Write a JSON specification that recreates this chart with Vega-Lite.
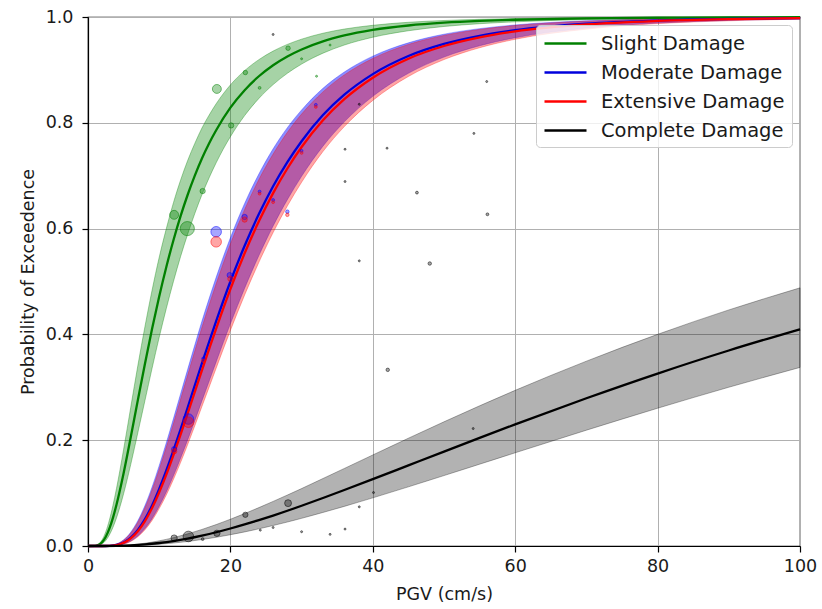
{
  "$schema": "https://vega.github.io/schema/vega-lite/v6.json",
  "width": 712,
  "height": 529,
  "autosize": {"type": "none"},
  "padding": {"left": 88, "top": 17, "right": 22, "bottom": 63},
  "background": "white",
  "config": {
    "font": "DejaVu Sans",
    "view": {"stroke": "black", "strokeWidth": 1.2},
    "axis": {
      "grid": true, "gridColor": "#b0b0b0", "gridWidth": 1,
      "domainColor": "black", "domainWidth": 1.2,
      "tickColor": "black", "tickSize": 6, "tickWidth": 1.2,
      "labelFontSize": 17.5, "labelColor": "#1a1a1a", "labelFlush": false,
      "titleFontSize": 17.5, "titleFontWeight": "normal", "titleColor": "#1a1a1a"
    }
  },
  "datasets": {
    "curves": [
      {"s":"Slight Damage","x":0,"p":0,"lo":0,"hi":0},
      {"s":"Slight Damage","x":1,"p":0.0003,"lo":0.0001,"hi":0.0005},
      {"s":"Slight Damage","x":1.5,"p":0.0021,"lo":0.0011,"hi":0.0037},
      {"s":"Slight Damage","x":2,"p":0.0074,"lo":0.0042,"hi":0.0121},
      {"s":"Slight Damage","x":2.5,"p":0.0175,"lo":0.0105,"hi":0.0271},
      {"s":"Slight Damage","x":3,"p":0.0328,"lo":0.0208,"hi":0.0489},
      {"s":"Slight Damage","x":3.5,"p":0.0532,"lo":0.035,"hi":0.0765},
      {"s":"Slight Damage","x":4,"p":0.078,"lo":0.053,"hi":0.1086},
      {"s":"Slight Damage","x":5,"p":0.1376,"lo":0.0988,"hi":0.1825},
      {"s":"Slight Damage","x":6,"p":0.2055,"lo":0.154,"hi":0.262},
      {"s":"Slight Damage","x":7,"p":0.2757,"lo":0.214,"hi":0.341},
      {"s":"Slight Damage","x":8,"p":0.3446,"lo":0.275,"hi":0.415},
      {"s":"Slight Damage","x":9,"p":0.4105,"lo":0.336,"hi":0.4836},
      {"s":"Slight Damage","x":10,"p":0.4717,"lo":0.3944,"hi":0.5457},
      {"s":"Slight Damage","x":11,"p":0.5275,"lo":0.449,"hi":0.6},
      {"s":"Slight Damage","x":12,"p":0.578,"lo":0.5,"hi":0.649},
      {"s":"Slight Damage","x":13,"p":0.6236,"lo":0.547,"hi":0.6915},
      {"s":"Slight Damage","x":14,"p":0.664,"lo":0.5895,"hi":0.7288},
      {"s":"Slight Damage","x":15,"p":0.7002,"lo":0.6285,"hi":0.761},
      {"s":"Slight Damage","x":16,"p":0.7326,"lo":0.664,"hi":0.79},
      {"s":"Slight Damage","x":17,"p":0.761,"lo":0.6957,"hi":0.8143},
      {"s":"Slight Damage","x":18,"p":0.786,"lo":0.7244,"hi":0.836},
      {"s":"Slight Damage","x":20,"p":0.8286,"lo":0.7737,"hi":0.8716},
      {"s":"Slight Damage","x":22,"p":0.8617,"lo":0.8136,"hi":0.8986},
      {"s":"Slight Damage","x":24,"p":0.888,"lo":0.846,"hi":0.9194},
      {"s":"Slight Damage","x":26,"p":0.9089,"lo":0.8722,"hi":0.9356},
      {"s":"Slight Damage","x":28,"p":0.9255,"lo":0.8936,"hi":0.9482},
      {"s":"Slight Damage","x":30,"p":0.9387,"lo":0.911,"hi":0.9581},
      {"s":"Slight Damage","x":33,"p":0.954,"lo":0.9316,"hi":0.9693},
      {"s":"Slight Damage","x":36,"p":0.9651,"lo":0.947,"hi":0.9772},
      {"s":"Slight Damage","x":40,"p":0.9755,"lo":0.9617,"hi":0.9843},
      {"s":"Slight Damage","x":45,"p":0.9839,"lo":0.974,"hi":0.99},
      {"s":"Slight Damage","x":50,"p":0.9892,"lo":0.9821,"hi":0.9934},
      {"s":"Slight Damage","x":55,"p":0.9926,"lo":0.9873,"hi":0.9956},
      {"s":"Slight Damage","x":60,"p":0.9948,"lo":0.9909,"hi":0.997},
      {"s":"Slight Damage","x":70,"p":0.9974,"lo":0.9952,"hi":0.9985},
      {"s":"Slight Damage","x":80,"p":0.9986,"lo":0.9974,"hi":0.9992},
      {"s":"Slight Damage","x":90,"p":0.9992,"lo":0.9985,"hi":0.9996},
      {"s":"Slight Damage","x":100,"p":0.9995,"lo":0.9991,"hi":0.9997},

      {"s":"Moderate Damage","x":0,"p":0,"lo":0,"hi":0},
      {"s":"Moderate Damage","x":2,"p":0,"lo":0,"hi":0.0001},
      {"s":"Moderate Damage","x":3,"p":0.0004,"lo":0.0002,"hi":0.0007},
      {"s":"Moderate Damage","x":4,"p":0.002,"lo":0.001,"hi":0.0038},
      {"s":"Moderate Damage","x":5,"p":0.0066,"lo":0.0037,"hi":0.0117},
      {"s":"Moderate Damage","x":6,"p":0.0158,"lo":0.0093,"hi":0.0261},
      {"s":"Moderate Damage","x":7,"p":0.0304,"lo":0.0189,"hi":0.0479},
      {"s":"Moderate Damage","x":8,"p":0.0507,"lo":0.033,"hi":0.0765},
      {"s":"Moderate Damage","x":9,"p":0.0768,"lo":0.0517,"hi":0.1116},
      {"s":"Moderate Damage","x":10,"p":0.108,"lo":0.075,"hi":0.1518},
      {"s":"Moderate Damage","x":11,"p":0.1428,"lo":0.102,"hi":0.1952},
      {"s":"Moderate Damage","x":12,"p":0.1807,"lo":0.1326,"hi":0.2408},
      {"s":"Moderate Damage","x":13,"p":0.2207,"lo":0.1657,"hi":0.2874},
      {"s":"Moderate Damage","x":14,"p":0.2618,"lo":0.2006,"hi":0.334},
      {"s":"Moderate Damage","x":15,"p":0.3036,"lo":0.237,"hi":0.38},
      {"s":"Moderate Damage","x":16,"p":0.3453,"lo":0.2743,"hi":0.425},
      {"s":"Moderate Damage","x":17,"p":0.3855,"lo":0.311,"hi":0.4673},
      {"s":"Moderate Damage","x":18,"p":0.425,"lo":0.348,"hi":0.508},
      {"s":"Moderate Damage","x":20,"p":0.5,"lo":0.42,"hi":0.5828},
      {"s":"Moderate Damage","x":22,"p":0.5675,"lo":0.4872,"hi":0.6476},
      {"s":"Moderate Damage","x":24,"p":0.6274,"lo":0.549,"hi":0.7033},
      {"s":"Moderate Damage","x":26,"p":0.68,"lo":0.605,"hi":0.7508},
      {"s":"Moderate Damage","x":28,"p":0.7257,"lo":0.6547,"hi":0.7908},
      {"s":"Moderate Damage","x":30,"p":0.7652,"lo":0.6989,"hi":0.8243},
      {"s":"Moderate Damage","x":33,"p":0.8146,"lo":0.7558,"hi":0.8652},
      {"s":"Moderate Damage","x":36,"p":0.8531,"lo":0.8018,"hi":0.896},
      {"s":"Moderate Damage","x":40,"p":0.892,"lo":0.85,"hi":0.926},
      {"s":"Moderate Damage","x":45,"p":0.9262,"lo":0.8936,"hi":0.9512},
      {"s":"Moderate Damage","x":50,"p":0.9491,"lo":0.9242,"hi":0.9675},
      {"s":"Moderate Damage","x":55,"p":0.9645,"lo":0.9456,"hi":0.978},
      {"s":"Moderate Damage","x":60,"p":0.975,"lo":0.9607,"hi":0.985},
      {"s":"Moderate Damage","x":70,"p":0.9873,"lo":0.979,"hi":0.9928},
      {"s":"Moderate Damage","x":80,"p":0.9933,"lo":0.9885,"hi":0.9964},
      {"s":"Moderate Damage","x":90,"p":0.9964,"lo":0.9935,"hi":0.9981},
      {"s":"Moderate Damage","x":100,"p":0.998,"lo":0.9962,"hi":0.999},

      {"s":"Extensive Damage","x":0,"p":0,"lo":0,"hi":0},
      {"s":"Extensive Damage","x":2,"p":0,"lo":0,"hi":0.0001},
      {"s":"Extensive Damage","x":3,"p":0.0003,"lo":0.0001,"hi":0.0007},
      {"s":"Extensive Damage","x":4,"p":0.0018,"lo":0.0009,"hi":0.0035},
      {"s":"Extensive Damage","x":5,"p":0.006,"lo":0.0034,"hi":0.0108},
      {"s":"Extensive Damage","x":6,"p":0.0144,"lo":0.0086,"hi":0.0244},
      {"s":"Extensive Damage","x":7,"p":0.028,"lo":0.0175,"hi":0.0449},
      {"s":"Extensive Damage","x":8,"p":0.0472,"lo":0.0307,"hi":0.0723},
      {"s":"Extensive Damage","x":9,"p":0.0718,"lo":0.0484,"hi":0.106},
      {"s":"Extensive Damage","x":10,"p":0.1015,"lo":0.0707,"hi":0.1448},
      {"s":"Extensive Damage","x":11,"p":0.1348,"lo":0.0965,"hi":0.187},
      {"s":"Extensive Damage","x":12,"p":0.1716,"lo":0.1259,"hi":0.2315},
      {"s":"Extensive Damage","x":13,"p":0.2104,"lo":0.1577,"hi":0.2773},
      {"s":"Extensive Damage","x":14,"p":0.2505,"lo":0.1918,"hi":0.3231},
      {"s":"Extensive Damage","x":15,"p":0.2912,"lo":0.2272,"hi":0.3685},
      {"s":"Extensive Damage","x":16,"p":0.3321,"lo":0.2637,"hi":0.413},
      {"s":"Extensive Damage","x":17,"p":0.3718,"lo":0.2998,"hi":0.455},
      {"s":"Extensive Damage","x":18,"p":0.411,"lo":0.3361,"hi":0.4956},
      {"s":"Extensive Damage","x":20,"p":0.4856,"lo":0.4075,"hi":0.571},
      {"s":"Extensive Damage","x":22,"p":0.5533,"lo":0.4745,"hi":0.6361},
      {"s":"Extensive Damage","x":24,"p":0.6137,"lo":0.5363,"hi":0.6928},
      {"s":"Extensive Damage","x":26,"p":0.6671,"lo":0.5925,"hi":0.7409},
      {"s":"Extensive Damage","x":28,"p":0.7136,"lo":0.6428,"hi":0.782},
      {"s":"Extensive Damage","x":30,"p":0.7542,"lo":0.6876,"hi":0.8165},
      {"s":"Extensive Damage","x":33,"p":0.8048,"lo":0.7457,"hi":0.8584},
      {"s":"Extensive Damage","x":36,"p":0.8447,"lo":0.7928,"hi":0.8905},
      {"s":"Extensive Damage","x":40,"p":0.8853,"lo":0.8423,"hi":0.9216},
      {"s":"Extensive Damage","x":45,"p":0.9212,"lo":0.8876,"hi":0.9481},
      {"s":"Extensive Damage","x":50,"p":0.9452,"lo":0.9195,"hi":0.9652},
      {"s":"Extensive Damage","x":55,"p":0.9616,"lo":0.9419,"hi":0.9764},
      {"s":"Extensive Damage","x":60,"p":0.9729,"lo":0.9579,"hi":0.9838},
      {"s":"Extensive Damage","x":70,"p":0.9861,"lo":0.977,"hi":0.9921},
      {"s":"Extensive Damage","x":80,"p":0.9926,"lo":0.9876,"hi":0.996},
      {"s":"Extensive Damage","x":90,"p":0.996,"lo":0.9929,"hi":0.9979},
      {"s":"Extensive Damage","x":100,"p":0.9977,"lo":0.9959,"hi":0.9989},

      {"s":"Complete Damage","x":0,"p":0,"lo":0,"hi":0},
      {"s":"Complete Damage","x":2,"p":0,"lo":0,"hi":0.0001},
      {"s":"Complete Damage","x":4,"p":0.0003,"lo":0.0001,"hi":0.0006},
      {"s":"Complete Damage","x":6,"p":0.0012,"lo":0.0006,"hi":0.0022},
      {"s":"Complete Damage","x":8,"p":0.0029,"lo":0.0016,"hi":0.0053},
      {"s":"Complete Damage","x":10,"p":0.0057,"lo":0.0033,"hi":0.0098},
      {"s":"Complete Damage","x":12,"p":0.0094,"lo":0.0056,"hi":0.0158},
      {"s":"Complete Damage","x":14,"p":0.0141,"lo":0.0085,"hi":0.023},
      {"s":"Complete Damage","x":16,"p":0.0197,"lo":0.0122,"hi":0.0313},
      {"s":"Complete Damage","x":18,"p":0.026,"lo":0.0164,"hi":0.0405},
      {"s":"Complete Damage","x":20,"p":0.0331,"lo":0.0213,"hi":0.0506},
      {"s":"Complete Damage","x":22,"p":0.0408,"lo":0.0266,"hi":0.0613},
      {"s":"Complete Damage","x":24,"p":0.049,"lo":0.0324,"hi":0.0726},
      {"s":"Complete Damage","x":26,"p":0.0576,"lo":0.0387,"hi":0.0843},
      {"s":"Complete Damage","x":28,"p":0.0667,"lo":0.0453,"hi":0.0963},
      {"s":"Complete Damage","x":30,"p":0.0761,"lo":0.0523,"hi":0.1086},
      {"s":"Complete Damage","x":33,"p":0.0908,"lo":0.0634,"hi":0.1276},
      {"s":"Complete Damage","x":36,"p":0.1058,"lo":0.0749,"hi":0.1466},
      {"s":"Complete Damage","x":40,"p":0.1263,"lo":0.091,"hi":0.1721},
      {"s":"Complete Damage","x":45,"p":0.1524,"lo":0.1118,"hi":0.2038},
      {"s":"Complete Damage","x":50,"p":0.1785,"lo":0.1331,"hi":0.2348},
      {"s":"Complete Damage","x":55,"p":0.2044,"lo":0.1546,"hi":0.265},
      {"s":"Complete Damage","x":60,"p":0.2299,"lo":0.1762,"hi":0.2943},
      {"s":"Complete Damage","x":70,"p":0.2793,"lo":0.2189,"hi":0.3494},
      {"s":"Complete Damage","x":80,"p":0.326,"lo":0.2604,"hi":0.4001},
      {"s":"Complete Damage","x":90,"p":0.3696,"lo":0.3001,"hi":0.4463},
      {"s":"Complete Damage","x":100,"p":0.4098,"lo":0.3376,"hi":0.488}
    ],
    "obs": [
      {"s":"Slight Damage","x":12.1,"p":0.626,"n":20},
      {"s":"Slight Damage","x":13.95,"p":0.6,"n":50},
      {"s":"Slight Damage","x":18.1,"p":0.864,"n":20},
      {"s":"Slight Damage","x":16.1,"p":0.671,"n":7},
      {"s":"Slight Damage","x":20.1,"p":0.795,"n":7},
      {"s":"Slight Damage","x":22.1,"p":0.895,"n":5},
      {"s":"Slight Damage","x":24.1,"p":0.866,"n":2},
      {"s":"Slight Damage","x":28.1,"p":0.941,"n":5},
      {"s":"Slight Damage","x":30,"p":0.921,"n":1},
      {"s":"Slight Damage","x":34,"p":0.947,"n":1},
      {"s":"Slight Damage","x":32.1,"p":0.888,"n":1},
      {"s":"Moderate Damage","x":18,"p":0.594,"n":28},
      {"s":"Moderate Damage","x":22,"p":0.622,"n":7},
      {"s":"Moderate Damage","x":24.1,"p":0.67,"n":2},
      {"s":"Moderate Damage","x":26,"p":0.654,"n":2},
      {"s":"Moderate Damage","x":28,"p":0.632,"n":3},
      {"s":"Moderate Damage","x":30,"p":0.747,"n":2},
      {"s":"Moderate Damage","x":32,"p":0.834,"n":2},
      {"s":"Moderate Damage","x":14.1,"p":0.24,"n":28},
      {"s":"Moderate Damage","x":12.1,"p":0.183,"n":7},
      {"s":"Moderate Damage","x":16.2,"p":0.354,"n":3},
      {"s":"Moderate Damage","x":19.9,"p":0.512,"n":7},
      {"s":"Extensive Damage","x":18,"p":0.575,"n":28},
      {"s":"Extensive Damage","x":22,"p":0.617,"n":7},
      {"s":"Extensive Damage","x":24.1,"p":0.666,"n":2},
      {"s":"Extensive Damage","x":26,"p":0.65,"n":2},
      {"s":"Extensive Damage","x":28,"p":0.626,"n":3},
      {"s":"Extensive Damage","x":30,"p":0.743,"n":2},
      {"s":"Extensive Damage","x":32,"p":0.83,"n":2},
      {"s":"Extensive Damage","x":14.1,"p":0.234,"n":28},
      {"s":"Extensive Damage","x":12.1,"p":0.179,"n":7},
      {"s":"Extensive Damage","x":16.2,"p":0.35,"n":3},
      {"s":"Extensive Damage","x":20,"p":0.505,"n":7},
      {"s":"Complete Damage","x":28.1,"p":0.081,"n":12},
      {"s":"Complete Damage","x":22.1,"p":0.059,"n":7},
      {"s":"Complete Damage","x":14.1,"p":0.018,"n":28},
      {"s":"Complete Damage","x":12.1,"p":0.015,"n":10},
      {"s":"Complete Damage","x":18.1,"p":0.024,"n":10},
      {"s":"Complete Damage","x":16.1,"p":0.013,"n":2},
      {"s":"Complete Damage","x":24.2,"p":0.03,"n":1},
      {"s":"Complete Damage","x":26,"p":0.035,"n":1},
      {"s":"Complete Damage","x":30,"p":0.027,"n":1},
      {"s":"Complete Damage","x":34,"p":0.022,"n":1},
      {"s":"Complete Damage","x":36.1,"p":0.032,"n":1},
      {"s":"Complete Damage","x":38.1,"p":0.074,"n":1},
      {"s":"Complete Damage","x":40.1,"p":0.101,"n":1},
      {"s":"Complete Damage","x":42.1,"p":0.333,"n":3},
      {"s":"Complete Damage","x":54.1,"p":0.222,"n":1},
      {"s":"Complete Damage","x":48,"p":0.534,"n":3},
      {"s":"Complete Damage","x":46.2,"p":0.668,"n":2},
      {"s":"Complete Damage","x":56.1,"p":0.627,"n":2},
      {"s":"Complete Damage","x":42,"p":0.752,"n":1},
      {"s":"Complete Damage","x":54.2,"p":0.78,"n":1},
      {"s":"Complete Damage","x":56,"p":0.878,"n":1},
      {"s":"Complete Damage","x":36.1,"p":0.75,"n":1},
      {"s":"Complete Damage","x":36.1,"p":0.689,"n":1},
      {"s":"Complete Damage","x":38.1,"p":0.539,"n":1},
      {"s":"Complete Damage","x":38.1,"p":0.835,"n":1},
      {"s":"Complete Damage","x":26,"p":0.967,"n":1}
    ]
  },
  "data": {"name": "curves"},
  "encoding": {
    "x": {"field": "x", "type": "quantitative", "title": "PGV (cm/s)",
          "scale": {"domain": [0, 100], "nice": false},
          "axis": {"values": [0, 20, 40, 60, 80, 100], "labelPadding": 5, "titlePadding": 11}},
    "y": {"field": "p", "type": "quantitative", "title": "Probability of Exceedence",
          "scale": {"domain": [0, 1], "nice": false},
          "axis": {"values": [0, 0.2, 0.4, 0.6, 0.8, 1], "format": ".1f", "labelPadding": 9, "titlePadding": 8}}
  },
  "layer": [
    {"transform": [{"filter": "datum.s === 'Slight Damage'"}],
     "mark": {"type": "area", "interpolate": "monotone", "fill": "#008000", "fillOpacity": 0.35, "stroke": "#008000", "strokeOpacity": 0.35, "strokeWidth": 1},
     "encoding": {"y": {"field": "lo", "type": "quantitative", "title": "Probability of Exceedence"}, "y2": {"field": "hi"}}},
    {"transform": [{"filter": "datum.s === 'Moderate Damage'"}],
     "mark": {"type": "area", "interpolate": "monotone", "fill": "#0000ff", "fillOpacity": 0.45, "stroke": "#0000ff", "strokeOpacity": 0.3, "strokeWidth": 1},
     "encoding": {"y": {"field": "lo", "type": "quantitative", "title": "Probability of Exceedence"}, "y2": {"field": "hi"}}},
    {"transform": [{"filter": "datum.s === 'Extensive Damage'"}],
     "mark": {"type": "area", "interpolate": "monotone", "fill": "#ff0000", "fillOpacity": 0.35, "stroke": "#ff0000", "strokeOpacity": 0.3, "strokeWidth": 1},
     "encoding": {"y": {"field": "lo", "type": "quantitative", "title": "Probability of Exceedence"}, "y2": {"field": "hi"}}},
    {"transform": [{"filter": "datum.s === 'Complete Damage'"}],
     "mark": {"type": "area", "interpolate": "monotone", "fill": "#000000", "fillOpacity": 0.3, "stroke": "#000000", "strokeOpacity": 0.3, "strokeWidth": 1},
     "encoding": {"y": {"field": "lo", "type": "quantitative", "title": "Probability of Exceedence"}, "y2": {"field": "hi"}}},
    {"transform": [{"filter": "datum.s === 'Slight Damage'"}],
     "mark": {"type": "line", "interpolate": "monotone", "strokeWidth": 2.3},
     "encoding": {"color": {"field": "s", "type": "nominal",
        "scale": {"domain": ["Slight Damage", "Moderate Damage", "Extensive Damage", "Complete Damage"], "range": ["#008000", "#0000dd", "#ff0000", "#000000"]},
        "legend": {"title": null, "orient": "top-right", "offset": 8, "labelFontSize": 19.5, "labelColor": "#1a1a1a", "labelLimit": 400, "symbolType": "M-1,0L3.2,0", "symbolSize": 400, "symbolStrokeWidth": 2.5, "rowPadding": 8, "padding": 7, "labelOffset": 35, "fillColor": "rgba(255,255,255,0.8)", "strokeColor": "#cccccc", "cornerRadius": 4}}}},
    {"transform": [{"filter": "datum.s === 'Moderate Damage'"}],
     "mark": {"type": "line", "interpolate": "monotone", "strokeWidth": 2.3},
     "encoding": {"color": {"field": "s", "type": "nominal",
        "scale": {"domain": ["Slight Damage", "Moderate Damage", "Extensive Damage", "Complete Damage"], "range": ["#008000", "#0000dd", "#ff0000", "#000000"]},
        "legend": {"title": null, "orient": "top-right", "offset": 8, "labelFontSize": 19.5, "labelColor": "#1a1a1a", "labelLimit": 400, "symbolType": "M-1,0L3.2,0", "symbolSize": 400, "symbolStrokeWidth": 2.5, "rowPadding": 8, "padding": 7, "labelOffset": 35, "fillColor": "rgba(255,255,255,0.8)", "strokeColor": "#cccccc", "cornerRadius": 4}}}},
    {"transform": [{"filter": "datum.s === 'Extensive Damage'"}],
     "mark": {"type": "line", "interpolate": "monotone", "strokeWidth": 2.3},
     "encoding": {"color": {"field": "s", "type": "nominal",
        "scale": {"domain": ["Slight Damage", "Moderate Damage", "Extensive Damage", "Complete Damage"], "range": ["#008000", "#0000dd", "#ff0000", "#000000"]},
        "legend": {"title": null, "orient": "top-right", "offset": 8, "labelFontSize": 19.5, "labelColor": "#1a1a1a", "labelLimit": 400, "symbolType": "M-1,0L3.2,0", "symbolSize": 400, "symbolStrokeWidth": 2.5, "rowPadding": 8, "padding": 7, "labelOffset": 35, "fillColor": "rgba(255,255,255,0.8)", "strokeColor": "#cccccc", "cornerRadius": 4}}}},
    {"transform": [{"filter": "datum.s === 'Complete Damage'"}],
     "mark": {"type": "line", "interpolate": "monotone", "strokeWidth": 2.3},
     "encoding": {"color": {"field": "s", "type": "nominal",
        "scale": {"domain": ["Slight Damage", "Moderate Damage", "Extensive Damage", "Complete Damage"], "range": ["#008000", "#0000dd", "#ff0000", "#000000"]},
        "legend": {"title": null, "orient": "top-right", "offset": 8, "labelFontSize": 19.5, "labelColor": "#1a1a1a", "labelLimit": 400, "symbolType": "M-1,0L3.2,0", "symbolSize": 400, "symbolStrokeWidth": 2.5, "rowPadding": 8, "padding": 7, "labelOffset": 35, "fillColor": "rgba(255,255,255,0.8)", "strokeColor": "#cccccc", "cornerRadius": 4}}}},
    {"data": {"name": "obs"},
     "mark": {"type": "circle", "fillOpacity": 0.35, "strokeOpacity": 0.5, "strokeWidth": 1},
     "encoding": {
       "fill": {"field": "s", "type": "nominal", "legend": null,
         "scale": {"domain": ["Slight Damage", "Moderate Damage", "Extensive Damage", "Complete Damage"], "range": ["#008000", "#0000ff", "#ff0000", "#000000"]}},
       "stroke": {"field": "s", "type": "nominal", "legend": null,
         "scale": {"domain": ["Slight Damage", "Moderate Damage", "Extensive Damage", "Complete Damage"], "range": ["#008000", "#0000ff", "#ff0000", "#000000"]}},
       "size": {"field": "n", "type": "quantitative", "legend": null, "scale": {"domain": [0, 50], "range": [0, 200]}}
     }}
  ]
}
